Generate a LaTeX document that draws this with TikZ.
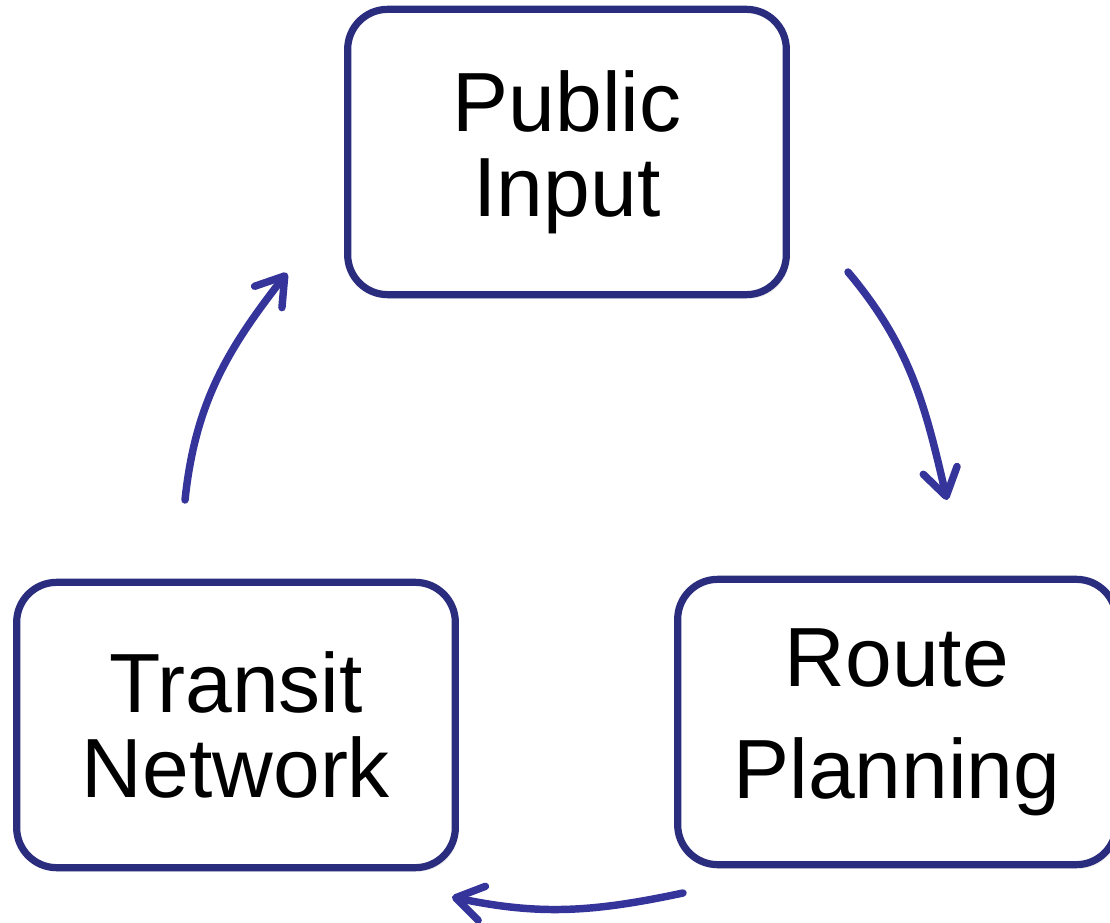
\documentclass[tikz,border=0pt]{standalone}
\usepackage{fontspec}
\setmainfont{Liberation Sans}
\usepackage{xcolor}
\usetikzlibrary{positioning,arrows.meta,shadows}

\definecolor{boxnavy}{RGB}{42,44,126}
\definecolor{arrowblue}{RGB}{52,52,154}

\begin{document}
\begin{tikzpicture}[
    x=0.75pt, y=0.75pt,
    stage/.style={rectangle, draw=boxnavy, line width=5.4pt, rounded corners=30pt, fill=white,
        minimum width=329pt, minimum height=214pt, align=center,
        font=\fontsize{63}{64}\selectfont,
        drop shadow={opacity=0.15, shadow xshift=2pt, shadow yshift=-3pt}},
    flow/.style={-{Straight Barb[length=20pt, width=26pt, round]}, draw=arrowblue, line width=5.6pt, line cap=round}
]
\useasboundingbox (0,0) rectangle (1110,922);

% Stages
\node[stage] (public) at (567,770) {Public\\Input};
\node[stage] (transit) at (236,197) {Transit\\Network};
\node[stage] (route) at (897,200) {\raisebox{-4pt}{Route}\\[24pt]Planning};

% Arrow ends
\coordinate (p1) at (848,650);
\coordinate (r1) at (947,422);
\coordinate (r2) at (683,29);
\coordinate (t2) at (452,25);
\coordinate (t3) at (185,422);
\coordinate (p3) at (287,649);

% Cycle
\draw[flow] (p1) to[out=-50, in=103] (r1);
\draw[flow] (r2) to[out=-168, in=-12] (t2);
\draw[flow] (t3) to[out=84, in=-128] (p3);

\end{tikzpicture}
\end{document}
